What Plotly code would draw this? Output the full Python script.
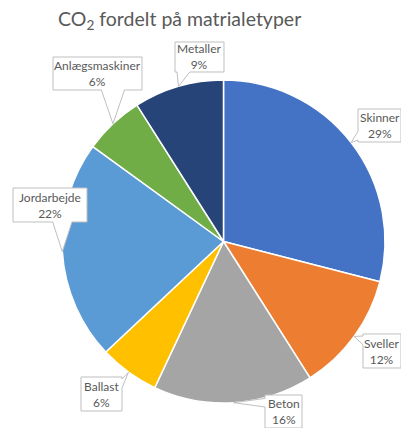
import math
import plotly.graph_objects as go

# ---- data ----
labels = ["Skinner", "Sveller", "Beton", "Ballast", "Jordarbejde", "Anlægsmaskiner", "Metaller"]
values = [29, 12, 16, 6, 22, 6, 9]
colors = ["#4472C4", "#ED7D31", "#A5A5A5", "#FFC000", "#5B9BD5", "#70AD47", "#264478"]
title_text = "CO<sub>2</sub> fordelt på matrialetyper"

# ---- layout constants (pixels) ----
W, H = 401, 428
CX, CY, R = 223.5, 241.5, 161.5
# label boxes: x0, y0, x1, y1
boxes = {
    "Skinner": (358, 109, 401, 142),
    "Sveller": (363, 334, 401, 368),
    "Beton": (265, 395, 302, 428),
    "Ballast": (81, 377, 122, 411),
    "Jordarbejde": (13, 188, 87, 222),
    "Anlægsmaskiner": (53, 57, 142, 90),
    "Metaller": (175, 42, 224, 72),
}

def px(x):
    return x / W

def py(y):
    return 1 - y / H

fig = go.Figure(go.Pie(
    labels=labels, values=values, sort=False, direction="clockwise", rotation=0,
    marker=dict(colors=colors, line=dict(color="white", width=1.5)),
    textinfo="none", hoverinfo="label+percent", showlegend=False,
    domain=dict(x=[px(CX - R), px(CX + R)], y=[py(CY + R), py(CY - R)]),
))

total = sum(values)
shapes = []
annotations = []
cum = 0
for lab, v in zip(labels, values):
    frac = (cum + v / 2) / total
    cum += v
    ang = 2 * math.pi * frac
    tx = CX + R * math.sin(ang)
    ty = CY - R * math.cos(ang)
    x0, y0, x1, y1 = boxes[lab]
    dxo = max(x0 - tx, tx - x1, 0)
    dyo = max(y0 - ty, ty - y1, 0)
    if dxo > dyo:
        side = "left" if tx < x0 else "right"
        L = y1 - y0
        hw = max(4, 0.13 * L)
        c = min(max(ty, y0 + hw + 2), y1 - hw - 2)
        if side == "left":
            pts = [(x0, y0), (x1, y0), (x1, y1), (x0, y1), (x0, c + hw), (tx, ty), (x0, c - hw)]
        else:
            pts = [(x0, y0), (x1, y0), (x1, c - hw), (tx, ty), (x1, c + hw), (x1, y1), (x0, y1)]
    else:
        side = "top" if ty < y0 else "bottom"
        L = x1 - x0
        hw = max(4, 0.13 * L)
        c = min(max(tx, x0 + hw + 2), x1 - hw - 2)
        if side == "top":
            pts = [(x0, y0), (c - hw, y0), (tx, ty), (c + hw, y0), (x1, y0), (x1, y1), (x0, y1)]
        else:
            pts = [(x0, y0), (x1, y0), (x1, y1), (c + hw, y1), (tx, ty), (c - hw, y1), (x0, y1)]
    path = "M " + " L ".join(f"{px(a):.5f},{py(b):.5f}" for a, b in pts) + " Z"
    shapes.append(dict(type="path", path=path, xref="paper", yref="paper",
                       fillcolor="white", line=dict(color="#BFBFBF", width=1), layer="above"))
    annotations.append(dict(
        x=px((x0 + x1) / 2), y=py((y0 + y1) / 2), xref="paper", yref="paper",
        text=f"{lab}<br>{round(100 * v / total)}%", showarrow=False,
        font=dict(family="Lato", size=12, color="#595959"),
        xanchor="center", yanchor="middle", align="center"))

annotations.append(dict(
    x=px(179), y=py(20), xref="paper", yref="paper", text=title_text, showarrow=False,
    font=dict(family="Lato", size=19.5, color="#595959"), xanchor="center", yanchor="middle"))

fig.update_layout(
    width=W, height=H, margin=dict(l=0, r=0, t=0, b=0),
    paper_bgcolor="white", plot_bgcolor="white",
    shapes=shapes, annotations=annotations,
)

fig.write_html("out.html", config={"displayModeBar": False},
               post_script="document.body.style.margin='0';")
